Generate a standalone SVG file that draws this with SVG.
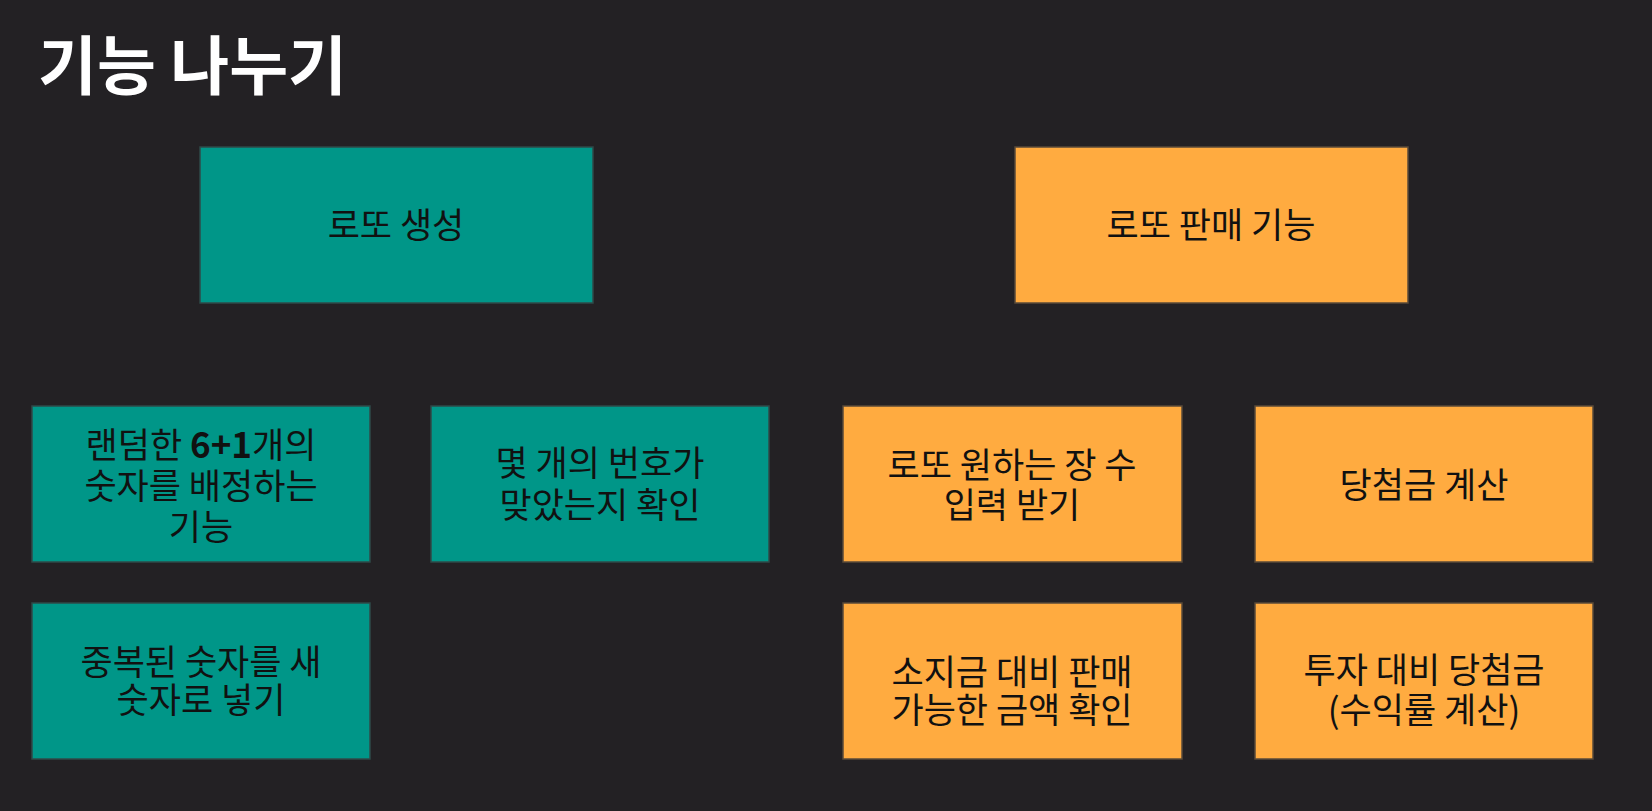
<svg xmlns="http://www.w3.org/2000/svg" width="1652" height="811" viewBox="0 0 1652 811">
<style>
.t{font-family:"Noto Sans CJK KR","Liberation Sans",sans-serif;font-size:35px;fill:#111;text-anchor:middle}
.teal{fill:#009688;stroke:#2f4a48;stroke-width:1.5}
.orange{fill:#FFAB40;stroke:#5a4a38;stroke-width:1.5}
</style>
<rect width="1652" height="811" fill="#232124"/>
<text x="38" y="89" font-family="'Noto Sans CJK KR','Liberation Sans',sans-serif" font-size="64" font-weight="bold" fill="#ffffff">기능 나누기</text>
<g id="connectors"></g>
<g id="n1"><rect class="teal" x="200" y="147" width="393" height="156"/><text class="t" x="396" y="238">로또 생성</text></g>
<g id="n2"><rect class="orange" x="1015" y="147" width="393" height="156"/><text class="t" x="1211" y="238">로또 판매 기능</text></g>
<g id="n3"><rect class="teal" x="32" y="406" width="338" height="156"/><text class="t" x="201" y="458">랜덤한 <tspan font-weight="bold">6+1</tspan>개의<tspan x="201" dy="41">숫자를 배정하는</tspan><tspan x="201" dy="41">기능</tspan></text></g>
<g id="n4"><rect class="teal" x="431" y="406" width="338" height="156"/><text class="t" x="600" y="476">몇 개의 번호가<tspan x="600" dy="42">맞았는지 확인</tspan></text></g>
<g id="n5"><rect class="orange" x="843" y="406" width="339" height="156"/><text class="t" x="1012" y="478">로또 원하는 장 수<tspan x="1012" dy="40">입력 받기</tspan></text></g>
<g id="n6"><rect class="orange" x="1255" y="406" width="338" height="156"/><text class="t" x="1424" y="498">당첨금 계산</text></g>
<g id="n7"><rect class="teal" x="32" y="603" width="338" height="156"/><text class="t" x="201" y="675">중복된 숫자를 새<tspan x="201" dy="38">숫자로 넣기</tspan></text></g>
<g id="n8"><rect class="orange" x="843" y="603" width="339" height="156"/><text class="t" x="1012" y="685">소지금 대비 판매<tspan x="1012" dy="38">가능한 금액 확인</tspan></text></g>
<g id="n9"><rect class="orange" x="1255" y="603" width="338" height="156"/><text class="t" x="1424" y="683">투자 대비 당첨금<tspan x="1424" dy="40">(수익률 계산)</tspan></text></g>
</svg>
